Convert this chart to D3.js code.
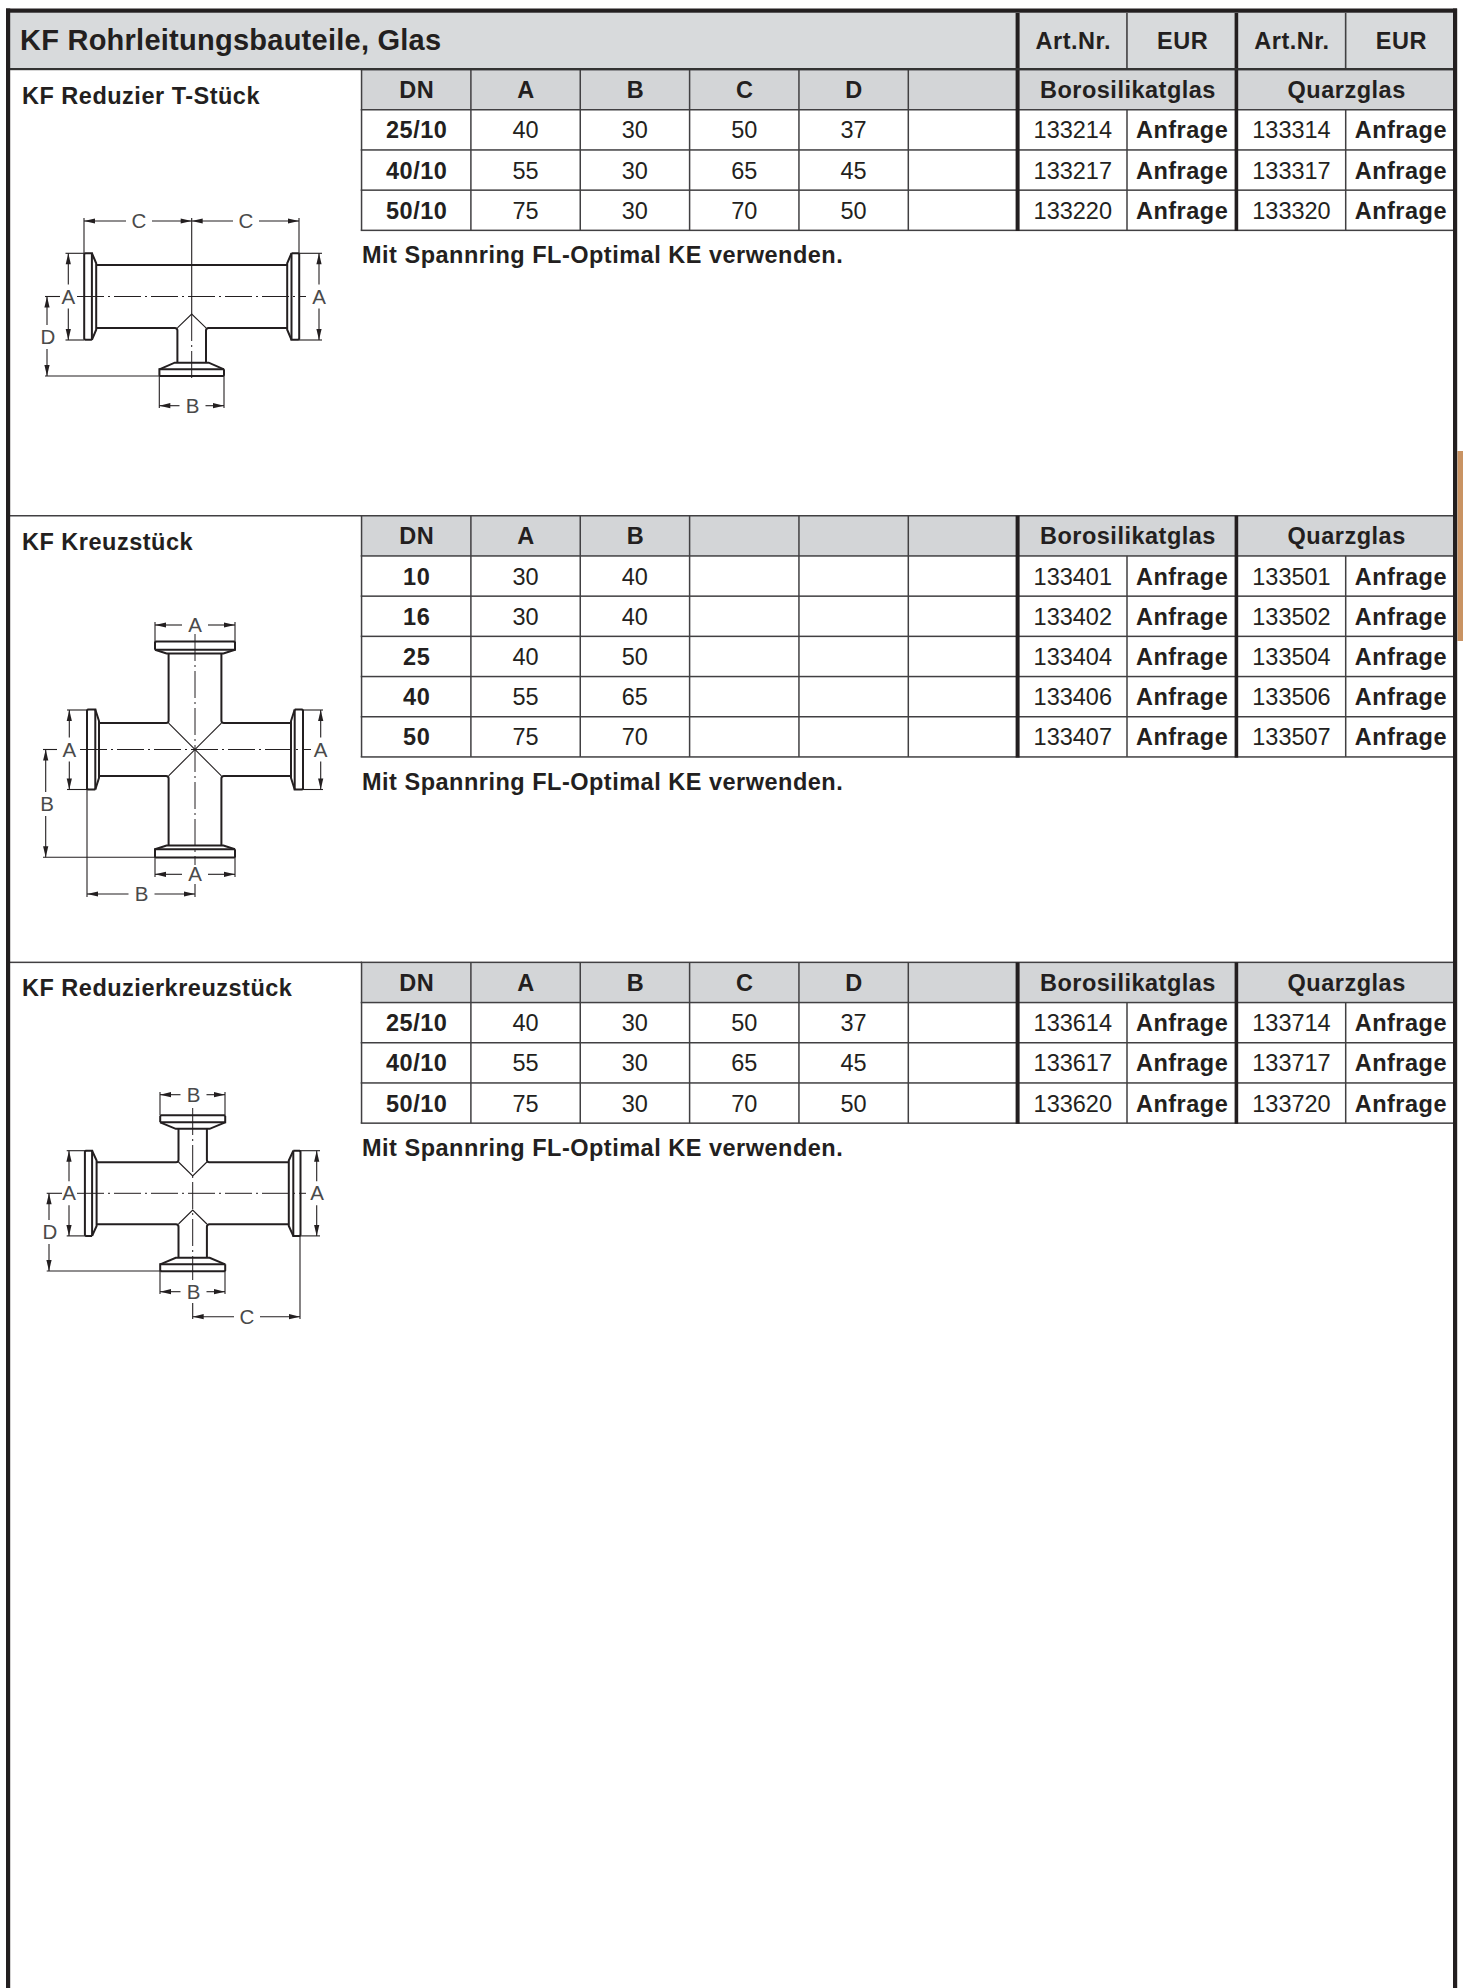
<!DOCTYPE html>
<html lang="de">
<head>
<meta charset="UTF-8">
<title>KF Rohrleitungsbauteile, Glas</title>
<script src="https://d3js.org/d3.v7.min.js"></script>
<style>
  html, body { margin: 0; padding: 0; background: #fff; }
  svg { display: block; }
  text { font-family: "Liberation Sans", Arial, sans-serif; fill: #231f20; }
  .num { font-size: 23.5px; }
  .b { font-weight: bold; letter-spacing: 0.5px; font-size: 23.5px; }
  .dim { font-size: 20.5px; fill: #4a4a4a; font-weight: normal; }
  .thick { stroke: #231f20; stroke-width: 2; fill: none; }
  .thin { stroke: #231f20; stroke-width: 1.1; fill: none; }
  .center { stroke: #231f20; stroke-width: 1; fill: none; stroke-dasharray: 27 4 2 4; }
</style>
</head>
<body>
<script>
const pageTitle = "KF Rohrleitungsbauteile, Glas";
const topHeader = ["Art.Nr.", "EUR", "Art.Nr.", "EUR"];
const noteText = "Mit Spannring FL-Optimal KE verwenden.";
const materials = ["Borosilikatglas", "Quarzglas"];
const priceText = "Anfrage";

const sectionNames = ["KF Reduzier T-Stück", "KF Kreuzstück", "KF Reduzierkreuzstück"];
const headColsABCD = ["DN", "A", "B", "C", "D", ""];
const headColsAB = ["DN", "A", "B", "", "", ""];

const dnT = ["25/10", "40/10", "50/10"];
const aT = [40, 55, 75];
const bT = [30, 30, 30];
const cT = [50, 65, 70];
const dT = [37, 45, 50];
const boroT = ["133214", "133217", "133220"];
const quarzT = ["133314", "133317", "133320"];

const dnX = ["10", "16", "25", "40", "50"];
const aX = [30, 30, 40, 55, 75];
const bX = [40, 40, 50, 65, 70];
const boroX = ["133401", "133402", "133404", "133406", "133407"];
const quarzX = ["133501", "133502", "133504", "133506", "133507"];

const dnR = ["25/10", "40/10", "50/10"];
const aR = [40, 55, 75];
const bR = [30, 30, 30];
const cR = [50, 65, 70];
const dR = [37, 45, 50];
const boroR = ["133614", "133617", "133620"];
const quarzR = ["133714", "133717", "133720"];

const W = 1463, H = 1988;
const ink = "#231f20", rule = "#414042", grey = "#d3d5d7";

const svg = d3.select("body").append("svg").attr("width", W).attr("height", H);
const x = d3.scaleLinear().domain([0, 10]).range([361.5, 1455]);

// ---- page frame and title band
svg.append("rect").attr("x", 1457.5).attr("y", 451).attr("width", 6).attr("height", 190).attr("fill", "#c99363");
svg.append("rect").attr("x", 10).attr("y", 12).attr("width", 1443).attr("height", 57).attr("fill", "#d8dadc");

const bar = (x0, y0, w, h, c) => svg.append("rect").attr("x", x0).attr("y", y0).attr("width", w).attr("height", h).attr("fill", c || ink);

svg.append("text").attr("x", 20).attr("y", 49.5).attr("class", "b").style("font-size", "29px").style("letter-spacing", "0.25px").text(pageTitle);
topHeader.forEach((t, i) => {
  svg.append("text").attr("x", (x(6 + i) + x(7 + i)) / 2 + 1).attr("y", 49)
    .attr("text-anchor", "middle").attr("class", "b").text(t);
});
bar(x(7) - 0.8, 13, 1.6, 56, rule);
bar(x(9) - 0.8, 13, 1.6, 56, rule);
bar(x(6) - 2, 13, 4, 57);
bar(x(8) - 1.7, 13, 3.6, 57);

// ---- one table per section
function drawTable(top, name, heads, cols, boro, quarz) {
  const n = cols[0].length;
  const y = d3.scaleLinear().domain([0, n + 1]).range([top, top + 40.2 * (n + 1)]);
  const g = svg.append("g");

  g.append("rect").attr("x", x(0)).attr("y", y(0)).attr("width", x(10) - x(0)).attr("height", y(1) - y(0)).attr("fill", grey);

  d3.range(0, n + 2).forEach(i => {
    g.append("rect").attr("x", x(0) - 0.8).attr("y", y(i) - 0.7).attr("width", x(10) - x(0) + 0.8).attr("height", 1.5).attr("fill", rule);
  });
  d3.range(0, 11).forEach(c => {
    if (c === 7 || c === 9) {
      g.append("rect").attr("x", x(c) - 0.7).attr("y", y(1)).attr("width", 1.5).attr("height", y(n + 1) - y(1)).attr("fill", rule);
    } else if (c !== 6 && c !== 8) {
      g.append("rect").attr("x", x(c) - 0.7).attr("y", y(0)).attr("width", 1.5).attr("height", y(n + 1) - y(0)).attr("fill", rule);
    }
  });
  bar(x(6) - 2, y(0), 4, y(n + 1) - y(0) + 0.7, ink);
  bar(x(8) - 1.7, y(0), 3.6, y(n + 1) - y(0) + 0.7, ink);

  const cx = c => (x(c) + x(c + 1)) / 2;
  const label = (t, px, row, cls) => g.append("text").attr("x", px).attr("y", (y(row) + y(row + 1)) / 2 + 8.5)
    .attr("text-anchor", "middle").attr("class", cls).text(t);

  heads.forEach((t, c) => { if (t) label(t, cx(c) + 0.5, 0, "b"); });
  label(materials[0], x(7) + 1, 0, "b");
  label(materials[1], x(9) + 1, 0, "b");

  d3.range(n).forEach(r => {
    cols.forEach((col, c) => label(col[r], cx(c) + (c === 0 ? 0.5 : 0), r + 1, c === 0 ? "b" : "num"));
    label(boro[r], cx(6) + 0.5, r + 1, "num");
    label(priceText, cx(7) + 0.5, r + 1, "b");
    label(quarz[r], cx(8) + 0.5, r + 1, "num");
    label(priceText, cx(9) + 0.5, r + 1, "b");
  });

  g.append("text").attr("x", x(0) + 0.5).attr("y", y(n + 1) + 33).attr("class", "b").text(noteText);
  svg.append("text").attr("x", 22).attr("y", top + 34).attr("class", "b").text(name);
}

drawTable(69.5, sectionNames[0], headColsABCD, [dnT, aT, bT, cT, dT], boroT, quarzT);
drawTable(515.7, sectionNames[1], headColsAB, [dnX, aX, bX], boroX, quarzX);
drawTable(962.3, sectionNames[2], headColsABCD, [dnR, aR, bR, cR, dR], boroR, quarzR);

svg.append("rect").attr("x", 10).attr("y", 515).attr("width", 352).attr("height", 1.5).attr("fill", rule);
svg.append("rect").attr("x", 10).attr("y", 961.6).attr("width", 352).attr("height", 1.5).attr("fill", rule);

// frame goes over everything
bar(6, 8.5, 4.2, H - 8.5);
bar(1453, 8.5, 4.2, H - 8.5);
bar(6, 8.5, 1451, 4.2);
bar(10, 68, 1443, 2.2, "#333");

// ---- drawing helpers
const lineGen = d3.line();
function seg(g, pts, cls) { return g.append("path").attr("d", lineGen(pts)).attr("class", cls); }

// flange drawn pointing along +x from the piece centre, then rotated into place
function flange(cx, cy, angle, p) {
  const g = svg.append("g").attr("transform", `translate(${cx},${cy}) rotate(${angle})`);
  const a = p.L - p.t, b = a - p.c;
  seg(g, [[a, -p.hw], [p.L - 1, -p.hw], [p.L, -p.hw + 1], [p.L, p.hw - 1], [p.L - 1, p.hw], [a, p.hw], [a, -p.hw]], "thick");
  seg(g, [[a, -p.hw], [b, -p.hw + (p.hw - p.p) * 0.85], [b, p.hw - (p.hw - p.p) * 0.85], [a, p.hw]], "thick");
}

function arrow(g, tipX, tipY, dx, dy) {
  const len = 11, w = 2.6;
  const pts = [[tipX, tipY], [tipX + dx * len - dy * w, tipY + dy * len + dx * w], [tipX + dx * len + dy * w, tipY + dy * len - dx * w]];
  g.append("path").attr("d", lineGen(pts) + "Z").attr("fill", ink);
}

// dimension line with the letter in a gap
function dim(x1, y1, x2, y2, letter, tx, ty, gap) {
  const g = svg.append("g");
  const horiz = y1 === y2;
  if (horiz) {
    seg(g, [[x1, y1], [tx - gap, y1]], "thin");
    seg(g, [[tx + gap, y1], [x2, y1]], "thin");
    arrow(g, x1, y1, 1, 0);
    arrow(g, x2, y1, -1, 0);
  } else {
    seg(g, [[x1, y1], [x1, ty - gap]], "thin");
    seg(g, [[x1, ty + gap], [x1, y2]], "thin");
    arrow(g, x1, y1, 0, 1);
    arrow(g, x1, y2, 0, -1);
  }
  g.append("text").attr("x", tx).attr("y", ty + 7).attr("text-anchor", "middle").attr("class", "dim").text(letter);
}
const thin = (pts) => seg(svg, pts, "thin");
const thick = (pts) => seg(svg, pts, "thick");
const center = (pts) => seg(svg, pts, "center");

// outline of a pipe edge with a small fillet at the junction
function filletPath(pts) {
  const p = d3.path();
  p.moveTo(pts[0][0], pts[0][1]);
  p.arcTo(pts[1][0], pts[1][1], pts[2][0], pts[2][1], 2.5);
  p.lineTo(pts[2][0], pts[2][1]);
  svg.append("path").attr("d", p.toString()).attr("class", "thick");
}

// ---- reducing T
(function () {
  const cx = 191.7, cy = 296.5;
  const main = { L: 107.5, t: 7.7, c: 4.3, hw: 43.3, p: 31.4 };
  const branch = { L: 79.5, t: 6.7, c: 6.6, hw: 32.3, p: 14.3 };
  flange(cx, cy, 180, main);
  flange(cx, cy, 0, main);
  flange(cx, cy, 90, branch);
  const inX = main.L - main.t - main.c, yB = cy + main.p, inY = branch.L - branch.t - branch.c;
  thick([[cx - inX, cy - main.p], [cx + inX, cy - main.p]]);
  filletPath([[cx - inX, yB], [cx - branch.p, yB], [cx - branch.p, cy + inY]]);
  filletPath([[cx + inX, yB], [cx + branch.p, yB], [cx + branch.p, cy + inY]]);
  seg(svg, [[cx - branch.p, yB], [cx, 314], [cx + branch.p, yB]], "thin");

  center([[77, cy], [306, cy]]);
  center([[cx, 314], [cx, 382]]);
  thin([[cx, 218], [cx, 314]]);
  thin([[84, 218], [84, 253]]);
  thin([[299, 218], [299, 253]]);
  dim(84, 221, cx, 221, "C", 139, 221, 13);
  dim(cx, 221, 299, 221, "C", 246, 221, 13);
  thin([[65.5, 253.3], [84, 253.3]]);
  thin([[65.5, 340], [84, 340]]);
  thin([[299, 253.3], [322, 253.3]]);
  thin([[299, 340], [322, 340]]);
  dim(68.3, 253.3, 68.3, 340, "A", 68.3, cy, 12);
  dim(319, 253.3, 319, 340, "A", 319, cy, 12);
  thin([[45, cy], [60, cy]]);
  thin([[45, 376], [159.2, 376]]);
  dim(47, cy, 47, 376, "D", 48, 337, 12);
  thin([[159.3, 376], [159.3, 408]]);
  thin([[224, 376], [224, 408]]);
  dim(159.3, 405.7, 224, 405.7, "B", 192.5, 405.7, 13);
})();

// ---- cross
(function () {
  const cx = 195, cy = 749.5;
  const arm = { L: 108, t: 8.3, c: 3.7, hw: 40, p: 26.4 };
  [0, 90, 180, 270].forEach(a => flange(cx, cy, a, arm));
  const inn = arm.L - arm.t - arm.c, p = arm.p;
  [[1, 1], [1, -1], [-1, 1], [-1, -1]].forEach(([sx, sy]) => {
    filletPath([[cx + sx * inn, cy + sy * p], [cx + sx * p, cy + sy * p], [cx + sx * p, cy + sy * inn]]);
  });
  seg(svg, [[cx - p, cy - p], [cx + p, cy + p]], "thin");
  seg(svg, [[cx - p, cy + p], [cx + p, cy - p]], "thin");

  center([[80, cy], [311, cy]]);
  center([[cx, 634], [cx, 865]]);
  thin([[155, 622], [155, 642]]);
  thin([[235, 622], [235, 642]]);
  dim(155, 625, 235, 625, "A", 195, 625, 13);
  thin([[155, 857], [155, 877]]);
  thin([[235, 857], [235, 877]]);
  dim(155, 874.3, 235, 874.3, "A", 195, 874.3, 13);
  thin([[67, 710], [87, 710]]);
  thin([[67, 789.5], [87, 789.5]]);
  dim(69.3, 710, 69.3, 789.5, "A", 69.3, cy, 12);
  thin([[303, 710], [323, 710]]);
  thin([[303, 789.5], [323, 789.5]]);
  dim(320.7, 710, 320.7, 789.5, "A", 320.7, cy, 12);
  thin([[43, cy], [57, cy]]);
  thin([[43, 857.3], [155, 857.3]]);
  dim(45.7, cy, 45.7, 857.3, "B", 47, 804, 12);
  thin([[87, 789.5], [87, 897]]);
  thin([[195, 884], [195, 897]]);
  dim(87, 894, 195, 894, "B", 141.5, 894, 13);
})();

// ---- reducing cross
(function () {
  const cx = 192.7, cy = 1193.3;
  const main = { L: 107.8, t: 7.2, c: 4.5, hw: 42.6, p: 31 };
  const branch = { L: 78, t: 7, c: 6.5, hw: 32.5, p: 14.2 };
  flange(cx, cy, 180, main);
  flange(cx, cy, 0, main);
  flange(cx, cy, 90, branch);
  flange(cx, cy, 270, branch);
  const inX = main.L - main.t - main.c, inY = branch.L - branch.t - branch.c;
  [[1, 1], [1, -1], [-1, 1], [-1, -1]].forEach(([sx, sy]) => {
    filletPath([[cx + sx * inX, cy + sy * main.p], [cx + sx * branch.p, cy + sy * main.p], [cx + sx * branch.p, cy + sy * inY]]);
  });
  seg(svg, [[cx - branch.p, 1162], [cx, 1176], [cx + branch.p, 1162]], "thin");
  seg(svg, [[cx - branch.p, 1224], [cx, 1210], [cx + branch.p, 1224]], "thin");

  center([[77, cy], [306, cy]]);
  center([[cx, 1108], [cx, 1280]]);
  thin([[160, 1092], [160, 1115]]);
  thin([[225, 1092], [225, 1115]]);
  dim(160, 1094.7, 225, 1094.7, "B", 193.5, 1094.7, 13);
  thin([[160, 1271], [160, 1294]]);
  thin([[225, 1271], [225, 1294]]);
  dim(160, 1291.7, 225, 1291.7, "B", 193.5, 1291.7, 13);
  thin([[66.7, 1150.7], [85, 1150.7]]);
  thin([[66.7, 1235.9], [85, 1235.9]]);
  dim(69, 1150.7, 69, 1235.9, "A", 69, cy, 12);
  thin([[300, 1150.7], [320, 1150.7]]);
  thin([[300, 1235.9], [320, 1235.9]]);
  dim(316.7, 1150.7, 316.7, 1235.9, "A", 317, cy, 12);
  thin([[46.7, cy], [62, cy]]);
  thin([[46.7, 1271], [160, 1271]]);
  dim(49, cy, 49, 1271, "D", 50, 1232, 12);
  thin([[cx, 1303], [cx, 1319]]);
  thin([[300, 1236], [300, 1319]]);
  dim(cx, 1316.7, 300, 1316.7, "C", 247, 1316.7, 13);
})();
</script>
</body>
</html>
